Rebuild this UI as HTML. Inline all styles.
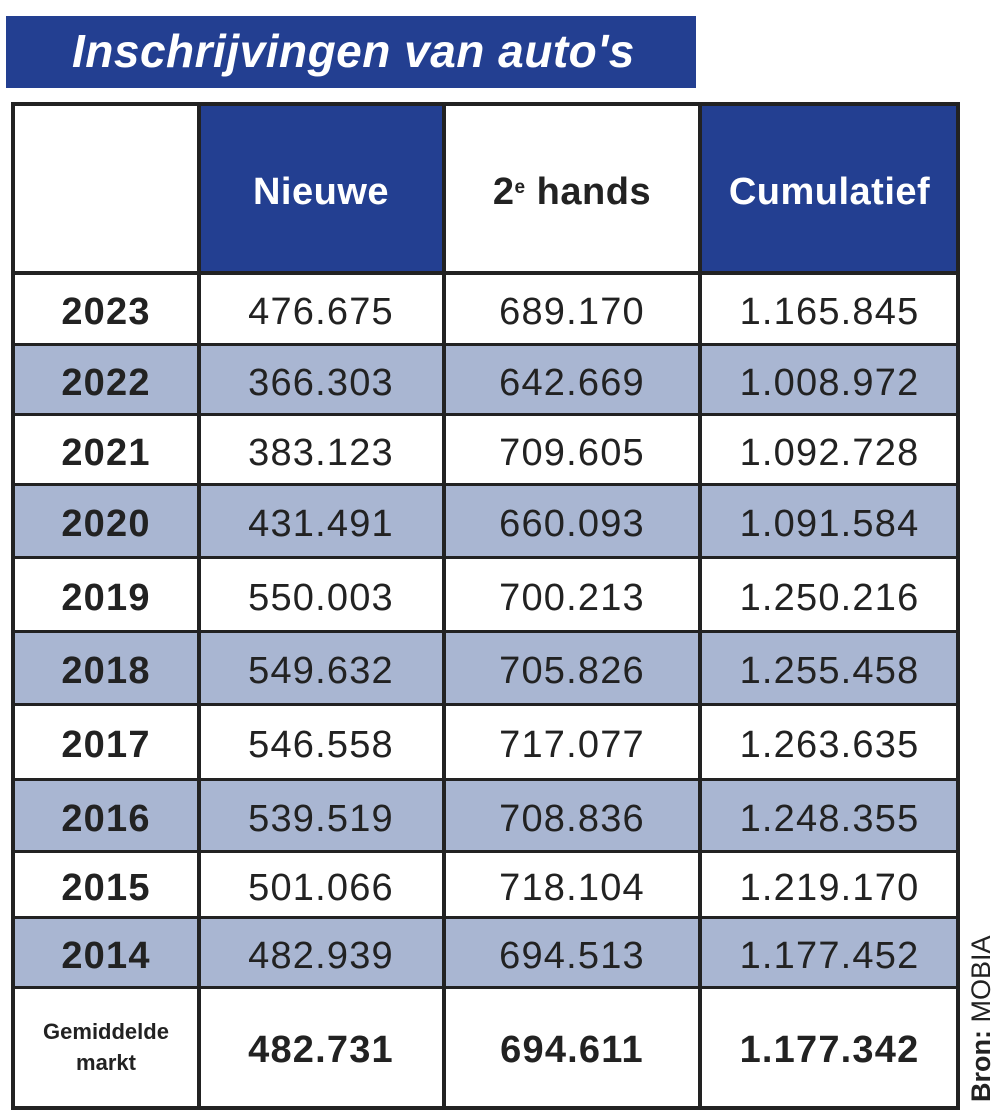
<!DOCTYPE html>
<html><head><style>
body{margin:0;width:1000px;height:1120px;background:#fff;position:relative;font-family:"Liberation Sans",sans-serif;overflow:hidden}
.t{position:absolute;left:6px;top:16px;width:690px;height:72px;background:#233f91}
.t span{position:absolute;left:66px;top:8px;color:#fff;font-style:italic;font-weight:bold;font-size:46px;letter-spacing:0.5px}
.c{position:absolute;display:flex;align-items:center;justify-content:center;font-size:38px;letter-spacing:1.2px;color:#222;box-sizing:border-box;padding-top:6px}
.b{font-weight:bold}
.h{position:absolute;background:#233f91}
.s{position:absolute;background:#a9b6d2}
.l{position:absolute;background:#222}
</style></head><body>
<div class="t"><span>Inschrijvingen van auto's</span></div>
<div class="h" style="left:198px;top:103px;width:245px;height:170px"></div>
<div class="h" style="left:700px;top:103px;width:258px;height:170px"></div>
<div class="s" style="left:12px;top:345px;width:946px;height:70px"></div>
<div class="s" style="left:12px;top:485px;width:946px;height:73px"></div>
<div class="s" style="left:12px;top:632px;width:946px;height:73px"></div>
<div class="s" style="left:12px;top:780px;width:946px;height:72px"></div>
<div class="s" style="left:12px;top:918px;width:946px;height:70px"></div>
<div class="l" style="left:11px;top:102px;width:949px;height:4px"></div>
<div class="l" style="left:11px;top:1106px;width:949px;height:4px"></div>
<div class="l" style="left:11px;top:102px;width:4px;height:1008px"></div>
<div class="l" style="left:956px;top:102px;width:4px;height:1008px"></div>
<div class="l" style="left:197px;top:102px;width:4px;height:1008px"></div>
<div class="l" style="left:442px;top:102px;width:4px;height:1008px"></div>
<div class="l" style="left:698px;top:102px;width:4px;height:1008px"></div>
<div class="l" style="left:11px;top:271px;width:949px;height:4px"></div>
<div class="l" style="left:11px;top:343px;width:949px;height:3px"></div>
<div class="l" style="left:11px;top:413px;width:949px;height:3px"></div>
<div class="l" style="left:11px;top:483px;width:949px;height:3px"></div>
<div class="l" style="left:11px;top:556px;width:949px;height:3px"></div>
<div class="l" style="left:11px;top:630px;width:949px;height:3px"></div>
<div class="l" style="left:11px;top:703px;width:949px;height:3px"></div>
<div class="l" style="left:11px;top:778px;width:949px;height:3px"></div>
<div class="l" style="left:11px;top:850px;width:949px;height:3px"></div>
<div class="l" style="left:11px;top:916px;width:949px;height:3px"></div>
<div class="l" style="left:11px;top:986px;width:949px;height:3px"></div>
<div class="c b" style="left:200px;top:105px;width:242px;height:168px;color:#fff;letter-spacing:0.5px">Nieuwe</div>
<div class="c b" style="left:445px;top:105px;width:254px;height:168px;letter-spacing:0.5px">2<sup style="font-size:19px;position:relative;top:-4px">e</sup>&nbsp;hands</div>
<div class="c b" style="left:702px;top:105px;width:255px;height:168px;color:#fff;letter-spacing:0.5px">Cumulatief</div>
<div id="rows"></div>
<script>
var d=[["2023","476.675","689.170","1.165.845",273,345],["2022","366.303","642.669","1.008.972",345,415],["2021","383.123","709.605","1.092.728",415,485],["2020","431.491","660.093","1.091.584",485,558],["2019","550.003","700.213","1.250.216",558,632],["2018","549.632","705.826","1.255.458",632,705],["2017","546.558","717.077","1.263.635",705,780],["2016","539.519","708.836","1.248.355",780,852],["2015","501.066","718.104","1.219.170",852,918],["2014","482.939","694.513","1.177.452",918,988]];
var xs=[[14,184],[200,242],[445,254],[702,255]],h="";
d.forEach(function(r){for(var i=0;i<4;i++){h+='<div class="c'+(i==0?' b':'')+'" style="left:'+xs[i][0]+'px;top:'+r[4]+'px;width:'+xs[i][1]+'px;height:'+(r[5]-r[4])+'px">'+r[i]+'</div>';}});
document.getElementById("rows").innerHTML=h;
</script>
<div class="c b" style="left:14px;top:988px;width:184px;height:118px;font-size:22px;line-height:31px;letter-spacing:0;text-align:center;padding-top:0">Gemiddelde<br>markt</div>
<div class="c b" style="left:200px;top:988px;width:242px;height:118px">482.731</div>
<div class="c b" style="left:445px;top:988px;width:254px;height:118px">694.611</div>
<div class="c b" style="left:702px;top:988px;width:255px;height:118px">1.177.342</div>
<div style="position:absolute;left:966px;top:1102px;transform:rotate(-90deg);transform-origin:0 0;font-size:27px;color:#222;white-space:nowrap;width:180px"><b>Bron:</b> MOBIA</div>
</body></html>
